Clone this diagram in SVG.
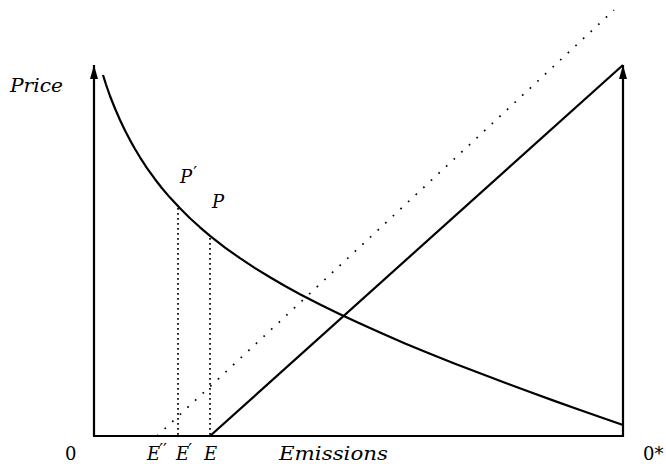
<svg xmlns="http://www.w3.org/2000/svg" width="666" height="464" viewBox="0 0 666 464">
<defs>
<style>
.ln{fill:none;stroke:#000;stroke-width:2.2;stroke-linejoin:round}
.dv{fill:none;stroke:#000;stroke-width:1.7;stroke-dasharray:1.7 3.3}
.dd{fill:none;stroke:#000;stroke-width:1.7;stroke-dasharray:1.7 8.7}
.t{font-family:'DejaVu Serif','Liberation Serif',serif;font-size:18px;font-style:italic;fill:#000}
.n{font-family:'DejaVu Serif','Liberation Serif',serif;font-size:18px;fill:#000}
.pr{font-size:17px;font-style:normal}
</style>
<marker id="ah" viewBox="0 0 14 8" refX="14" refY="4" markerWidth="14" markerHeight="8" markerUnits="userSpaceOnUse" orient="auto">
<path d="M0,0 L14,4 L0,8 Z" fill="#000"/>
</marker>
</defs>
<g id="axes">
<line class="ln" x1="94" y1="436" x2="94" y2="65" marker-end="url(#ah)"/>
<line class="ln" x1="93" y1="436" x2="624" y2="436"/>
<line class="ln" x1="623" y1="437" x2="623" y2="65" marker-end="url(#ah)"/>
</g>
<g id="connectors">
<polyline id="demand" class="ln" points="103,75 106,84.5 110,96 115,108.5 120,120 125,130.5 130,140.1 135,149 140,157.3 147,168.1 155,179.2 162,188.2 170,197.6 180,208.3 190,218.3 200,227.3 210,235.8 225,247.6 240,258.2 255,268.1 270,277.3 285,286 300,294.2 320,304.5 340,314.3 360,323.6 380,332.6 405,343.4 430,353.7 455,363.7 480,373.3 505,382.8 530,392 555,401.1 580,410 600,417 623,425"/>
<line id="supply" class="ln" x1="210" y1="436" x2="623" y2="65"/>
<line id="supply2" class="dd" x1="157" y1="436" x2="614" y2="10"/>
<line id="vP1" class="dv" x1="178" y1="208" x2="178" y2="436"/>
<line id="vP" class="dv" x1="210" y1="238" x2="210" y2="436"/>
</g>
<g id="labels">
<text class="t" x="10" y="92" textLength="53" lengthAdjust="spacingAndGlyphs">Price</text>
<text class="t" x="180" y="183">P<tspan class="pr" dx="1" dy="-5">′</tspan></text>
<text class="t" x="212" y="208">P</text>
<text class="n" x="65" y="460">0</text>
<text class="t" x="147" y="460">E<tspan class="pr" dx="-1" dy="-5">′′</tspan></text>
<text class="t" x="176" y="460">E<tspan class="pr" dx="-1" dy="-5">′</tspan></text>
<text class="t" x="204" y="460">E</text>
<text class="t" x="279" y="460" textLength="109" lengthAdjust="spacingAndGlyphs">Emissions</text>
<text class="n" x="643" y="460">0*</text>
</g>
</svg>
